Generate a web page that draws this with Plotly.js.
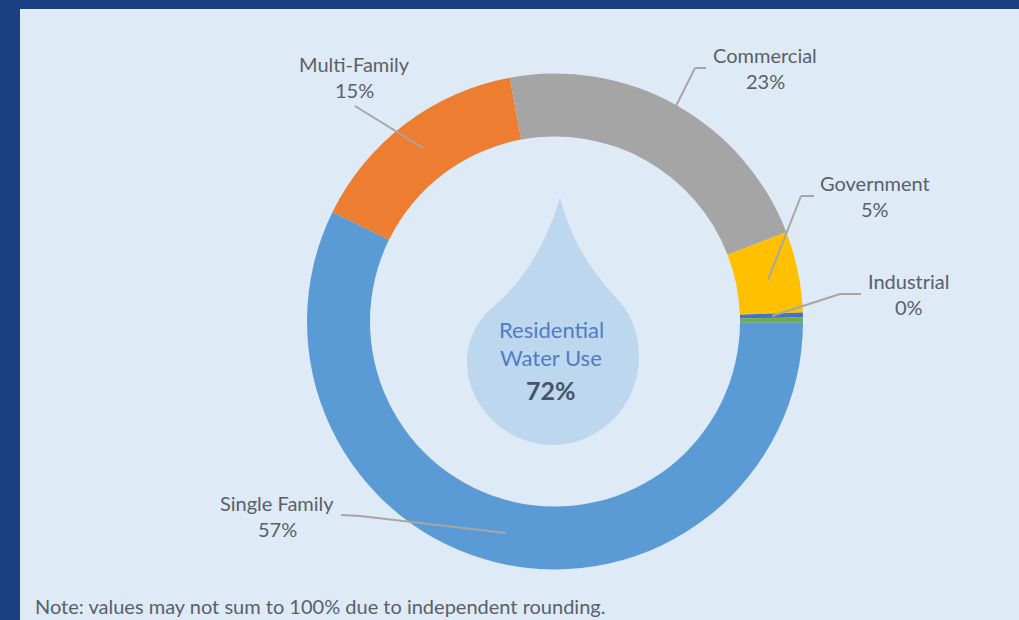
<!DOCTYPE html>
<html>
<head>
<meta charset="utf-8">
<script src="https://cdn.plot.ly/plotly-3.0.1.min.js"></script>
<style>html,body{margin:0;padding:0;background:#1a4083;overflow:hidden}#c{width:1019px;height:620px}</style>
</head>
<body>
<div id="c"></div>
<script>
var categories = ["Single Family","Multi-Family","Commercial","Government","Industrial","Other"];
var values = [57.2, 14.8, 22.05, 5.28, 0.32, 0.32];
var sliceColors = ["#5b9bd5","#ed7d31","#a5a5a5","#ffc000","#4472c4","#70ad47"];
var labelledCategories = ["Multi-Family","Commercial","Government","Industrial","Single Family"];
var labelledPercents = ["15%","23%","5%","0%","57%"];
var labelCenters = [[354,77],[765,68],[875,196],[909,294],[277,516]];
var leaderPoints = [
  [[355,106],[423,148]],
  [[706,68],[695,68],[676,106]],
  [[814,196],[801,196],[768,280]],
  [[861,294],[840,294],[772,316]],
  [[341,515],[360,516],[506,533]]
];
var centerLine1 = "Residential";
var centerLine2 = "Water Use";
var centerValue = "72%";
var note = "Note: values may not sum to 100% due to independent rounding.";

var W = 1019, H = 620;
function px(x){ return x / W; }
function py(y){ return 1 - y / H; }
function pathFrom(cmds){
  return cmds.map(function(c){
    var s = c[0];
    for (var i = 1; i < c.length; i += 2) s += " " + px(c[i]) + " " + py(c[i+1]);
    return s;
  }).join(" ") + " Z";
}
var dropCmds = [
  ["M",560,197],
  ["C",572,245,595,275,620,302],
  ["C",632,316,639,335,639,357],
  ["C",639,405,600,445,553,445],
  ["C",505,445,467,405,467,362],
  ["C",467,340,477,320,495,305],
  ["C",525,280,548,240,560,197]
];
var shapes = [
  {type:"rect",xref:"paper",yref:"paper",x0:px(20),x1:1,y0:0,y1:py(9),fillcolor:"#deeaf6",line:{width:0},layer:"below"},
  {type:"path",xref:"paper",yref:"paper",path:pathFrom(dropCmds),fillcolor:"#bdd7ee",line:{width:0},layer:"below"}
];
leaderPoints.forEach(function(p){
  for (var i = 0; i < p.length - 1; i++) {
    shapes.push({type:"line",xref:"paper",yref:"paper",x0:px(p[i][0]),y0:py(p[i][1]),x1:px(p[i+1][0]),y1:py(p[i+1][1]),line:{color:"#a6a6a6",width:2},layer:"above"});
  }
});
var font = "Lato, 'Open Sans', sans-serif";
function ann(x,y,text,size,color,anchor,bold){
  return {xref:"paper",yref:"paper",x:px(x),y:py(y),text:bold?"<b>"+text+"</b>":text,showarrow:false,
    xanchor:anchor||"center",yanchor:"middle",align:"center",font:{family:font,size:size,color:color},borderpad:0,borderwidth:0};
}
var annotations = [];
labelledCategories.forEach(function(c,i){
  annotations.push(ann(labelCenters[i][0],labelCenters[i][1]-13,c,20,"#5a6068"));
  annotations.push(ann(labelCenters[i][0],labelCenters[i][1]+13,labelledPercents[i],20,"#5a6068"));
});
annotations.push(ann(551,329,centerLine1,22,"#4f7cc8"));
annotations.push(ann(551,357,centerLine2,22,"#4f7cc8"));
annotations.push(ann(551,390,centerValue,25,"#44546a","center",true));
annotations.push(ann(35,606,note,20,"#5a6068","left"));

var cx = 555, cy = 321.5, R = 248;
var trace = {
  type:"pie", labels:categories, values:values, sort:false, direction:"clockwise", rotation:90.2,
  hole:0.746, textinfo:"none", hoverinfo:"label+percent",
  marker:{colors:sliceColors, line:{width:0}},
  domain:{x:[px(cx-R),px(cx+R)], y:[py(cy+R),py(cy-R)]},
  showlegend:false
};
Plotly.newPlot("c",[trace],{
  width:W,height:H,margin:{l:0,r:0,t:0,b:0,pad:0},
  paper_bgcolor:"#1a4083",plot_bgcolor:"rgba(0,0,0,0)",showlegend:false,
  shapes:shapes,annotations:annotations
},{displayModeBar:false,responsive:false});
</script>
</body>
</html>
